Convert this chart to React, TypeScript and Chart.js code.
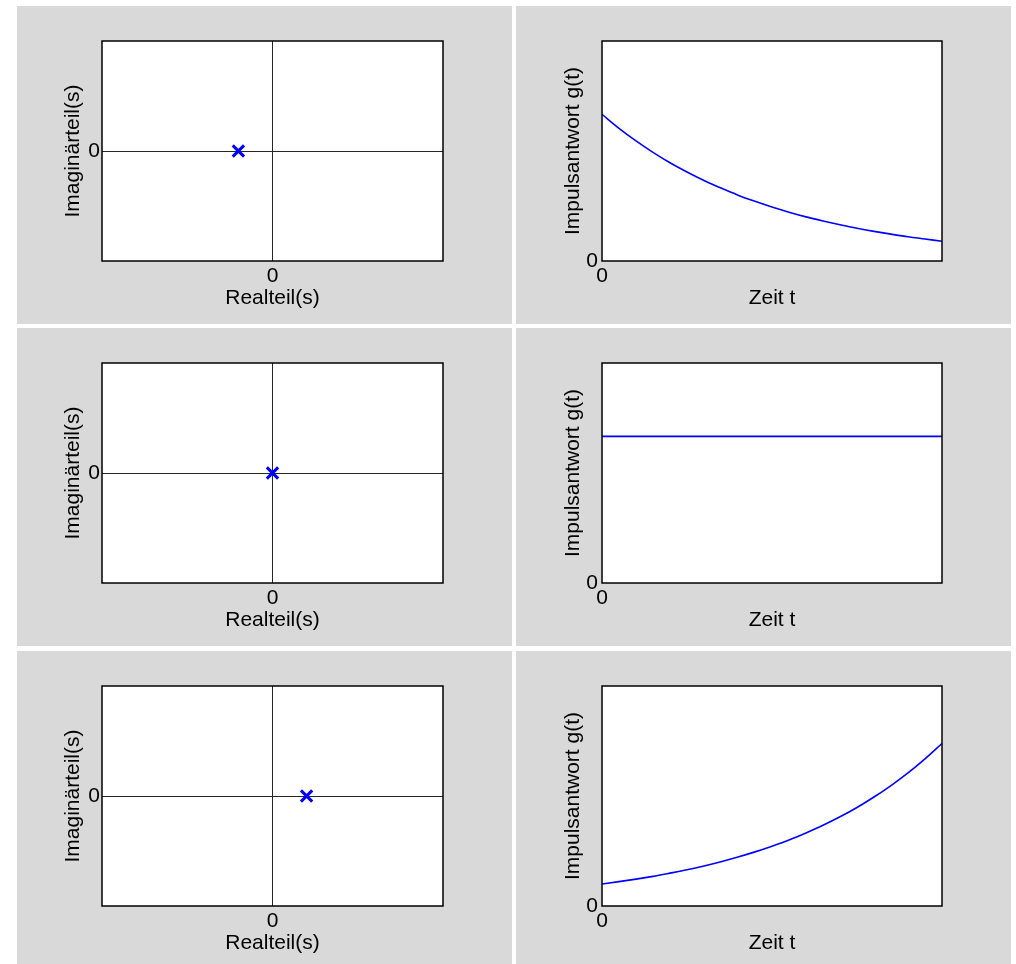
import React, { useEffect, useRef } from "react";
import { Chart, registerables } from "chart.js";

Chart.register(...registerables);

const FONT_FAMILY = '"Liberation Sans", Arial, Helvetica, sans-serif';

// Pole positions (Realteil, Imaginärteil)
const poleRe1 = [-0.2];
const poleIm1 = [0];
const poleRe2 = [0];
const poleIm2 = [0];
const poleRe3 = [0.2];
const poleIm3 = [0];

// Impulse responses
const timeSteps = [0, 0.5, 1, 1.5, 2, 2.5, 3, 3.5, 4, 4.5, 5, 5.5, 6, 6.5, 7, 7.5, 8, 8.5, 9, 9.5, 10];
const impulse1 = [1.0, 0.905, 0.819, 0.741, 0.67, 0.607, 0.549, 0.497, 0.449, 0.407, 0.368, 0.333, 0.301, 0.273, 0.247, 0.223, 0.202, 0.183, 0.165, 0.15, 0.135];
const timeConst = [0, 10];
const impulse2 = [1.0, 1.0];
const impulse3 = [0.15, 0.166, 0.183, 0.202, 0.224, 0.247, 0.273, 0.302, 0.334, 0.369, 0.408, 0.45, 0.498, 0.55, 0.608, 0.672, 0.743, 0.821, 0.907, 1.003, 1.108];

// Axis ranges and tick values
const reRange = [-1, 1];
const imRange = [-1, 1];
const tRange = [0, 10];
const gRange = [0, 1.5];
const zeroTicks = [0];

// Texts
const reTitle = "Realteil(s)";
const imTitle = "Imaginärteil(s)";
const tTitle = "Zeit t";
const gTitle = "Impulsantwort g(t)";

const PANEL_W = 495;
const PANEL_H = 318;
const COL_X = [17, 516];
const ROW_Y = [6, 328, 651];

const framePlugin = {
  id: "frameBox",
  beforeDraw(chart: any) {
    const { ctx, chartArea: a } = chart;
    ctx.save();
    ctx.fillStyle = "#ffffff";
    ctx.fillRect(a.left, a.top, a.right - a.left, a.bottom - a.top);
    ctx.restore();
  },
  afterDraw(chart: any) {
    const { ctx, chartArea: a } = chart;
    ctx.save();
    ctx.strokeStyle = "#000000";
    ctx.lineWidth = 1.5;
    ctx.strokeRect(a.left, a.top, a.right - a.left, a.bottom - a.top);
    ctx.restore();
  },
};

const zeroOnly = (axis: any) => {
  axis.ticks = zeroTicks.map((v) => ({ value: v }));
};

function axisTitle(text: string, padding: any) {
  return {
    display: true,
    text,
    color: "#000",
    font: { family: FONT_FAMILY, size: 21, lineHeight: 1 },
    padding,
  };
}

const tickFont = { family: FONT_FAMILY, size: 21, lineHeight: 1.2 };

function poleConfig(re: number[], im: number[]) {
  return {
    type: "scatter",
    data: {
      datasets: [
        {
          data: re.map((x, i) => ({ x, y: im[i] })),
          pointStyle: "crossRot",
          pointRadius: 8,
          pointBorderWidth: 3,
          pointBorderColor: "#0000ff",
          pointBackgroundColor: "#0000ff",
          borderColor: "#0000ff",
          showLine: false,
        },
      ],
    },
    options: {
      animation: false,
      responsive: false,
      events: [],
      layout: { padding: { top: 35, right: 69, bottom: 0, left: 0 } },
      plugins: { legend: { display: false }, tooltip: { enabled: false } },
      scales: {
        x: {
          type: "linear",
          min: reRange[0],
          max: reRange[1],
          afterBuildTicks: zeroOnly,
          afterFit: (s: any) => {
            s.height = 63;
          },
          grid: { color: "#262626", lineWidth: 1, drawTicks: false },
          border: { display: false },
          ticks: { font: tickFont, color: "#000", padding: 3, maxRotation: 0 },
          title: axisTitle(reTitle, { top: 0, bottom: 15 }),
        },
        y: {
          type: "linear",
          min: imRange[0],
          max: imRange[1],
          afterBuildTicks: zeroOnly,
          afterFit: (s: any) => {
            s.width = 85;
          },
          grid: { color: "#262626", lineWidth: 1, drawTicks: false },
          border: { display: false },
          ticks: { font: tickFont, color: "#000", padding: 2 },
          title: axisTitle(imTitle, { top: 46, bottom: 0 }),
        },
      },
    },
    plugins: [framePlugin],
  };
}

function impulseConfig(t: number[], g: number[]) {
  return {
    type: "scatter",
    data: {
      datasets: [
        {
          data: t.map((x, i) => ({ x, y: g[i] })),
          showLine: true,
          borderColor: "#0000ff",
          borderWidth: 1.6,
          pointRadius: 0,
          cubicInterpolationMode: "monotone",
          fill: false,
        },
      ],
    },
    options: {
      animation: false,
      responsive: false,
      events: [],
      layout: { padding: { top: 35, right: 69, bottom: 0, left: 0 } },
      plugins: { legend: { display: false }, tooltip: { enabled: false } },
      scales: {
        x: {
          type: "linear",
          min: tRange[0],
          max: tRange[1],
          afterBuildTicks: zeroOnly,
          afterFit: (s: any) => {
            s.height = 63;
          },
          grid: { display: false, drawTicks: false },
          border: { display: false },
          ticks: { font: tickFont, color: "#000", padding: 3, maxRotation: 0 },
          title: axisTitle(tTitle, { top: 0, bottom: 15 }),
        },
        y: {
          type: "linear",
          min: gRange[0],
          max: gRange[1],
          afterBuildTicks: zeroOnly,
          afterFit: (s: any) => {
            s.width = 86;
          },
          grid: { display: false, drawTicks: false },
          border: { display: false },
          ticks: { font: tickFont, color: "#000", padding: 4 },
          title: axisTitle(gTitle, { top: 47, bottom: 0 }),
        },
      },
    },
    plugins: [framePlugin],
  };
}

function Panel({ left, top, config }: { left: number; top: number; config: any }) {
  const ref = useRef<HTMLCanvasElement | null>(null);
  useEffect(() => {
    if (!ref.current) return;
    const chart = new Chart(ref.current, config);
    return () => chart.destroy();
  }, [config]);
  return (
    <div
      style={{
        position: "absolute",
        left,
        top,
        width: PANEL_W,
        height: PANEL_H,
        background: "#d9d9d9",
      }}
    >
      <canvas ref={ref} width={PANEL_W} height={PANEL_H} style={{ display: "block" }} />
    </div>
  );
}

const configs = [
  [poleConfig(poleRe1, poleIm1), impulseConfig(timeSteps, impulse1)],
  [poleConfig(poleRe2, poleIm2), impulseConfig(timeConst, impulse2)],
  [poleConfig(poleRe3, poleIm3), impulseConfig(timeSteps, impulse3)],
];

export default function App() {
  return (
    <div
      style={{
        position: "absolute",
        left: 0,
        top: 0,
        width: 1016,
        height: 964,
        overflow: "hidden",
        background: "#ffffff",
      }}
    >
      {configs.map((row, r) =>
        row.map((cfg, c) => (
          <Panel key={`${r}-${c}`} left={COL_X[c]} top={ROW_Y[r]} config={cfg} />
        ))
      )}
    </div>
  );
}
